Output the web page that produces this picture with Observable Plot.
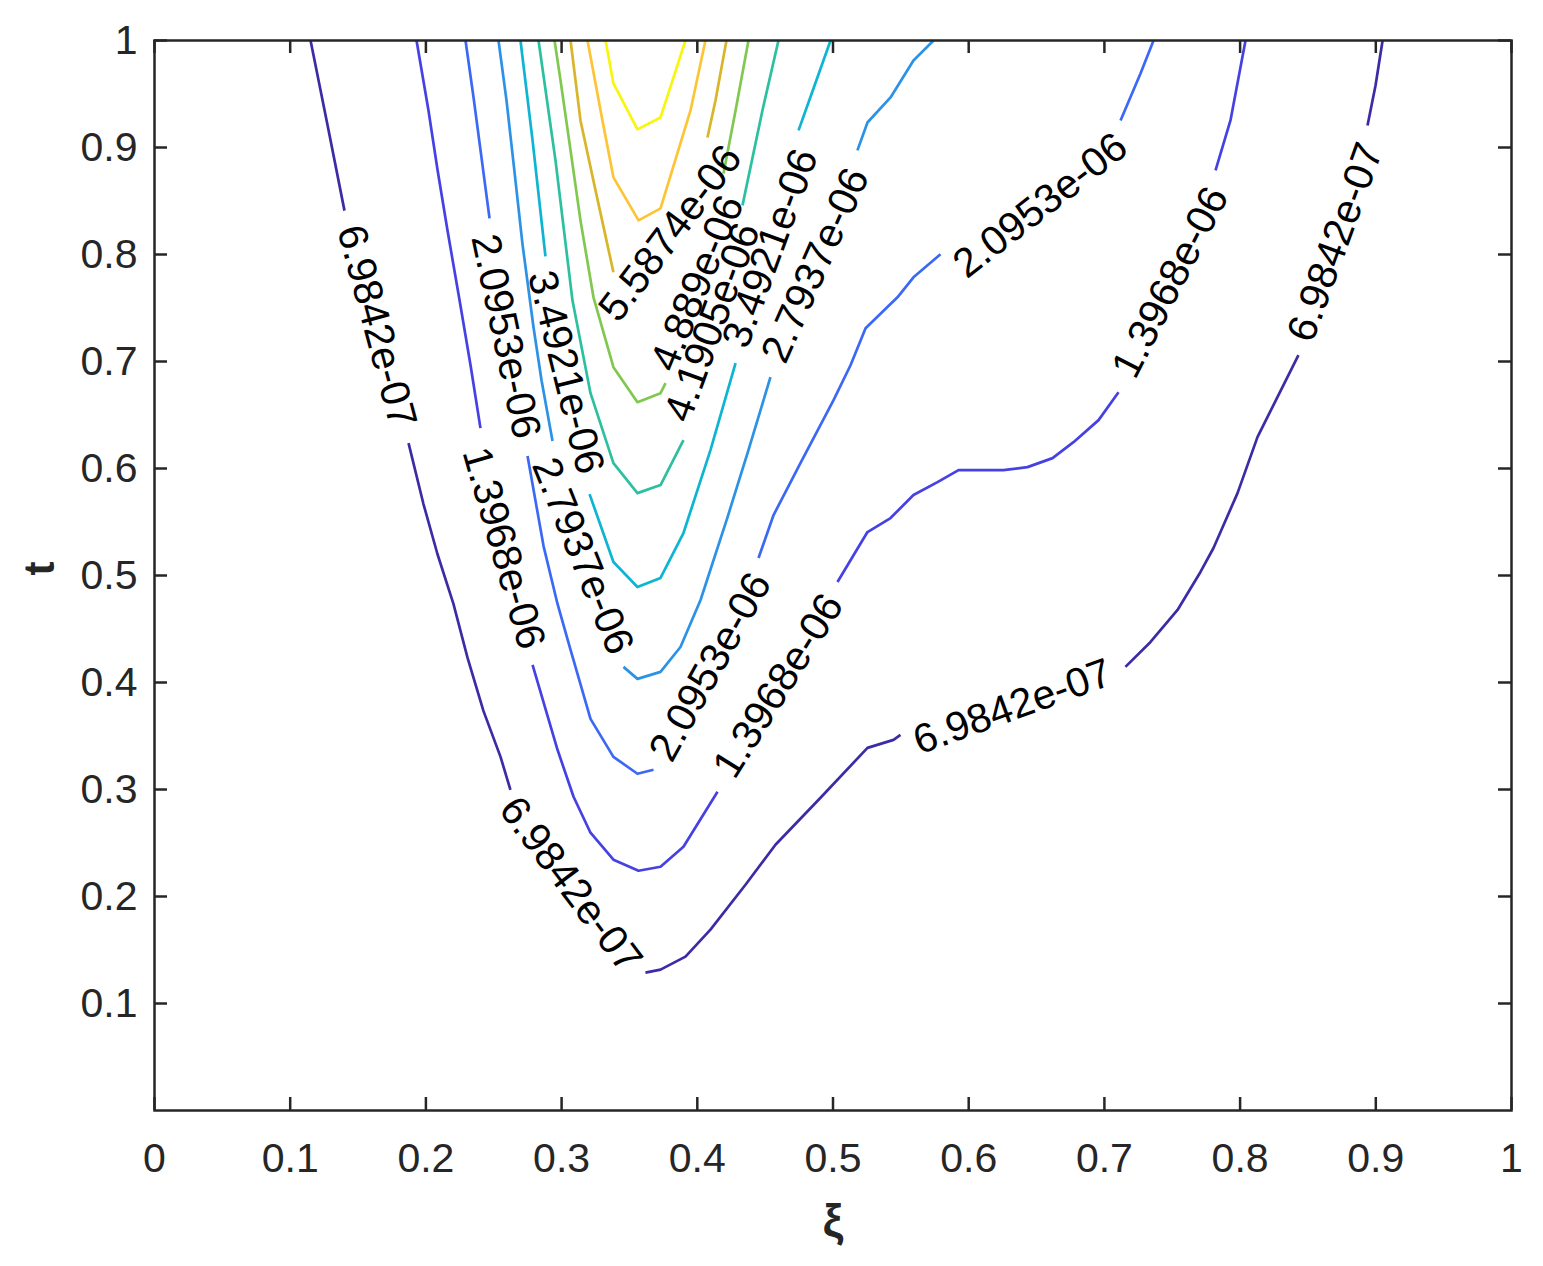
<!DOCTYPE html>
<html>
<head>
<meta charset="utf-8">
<script src="https://cdn.jsdelivr.net/npm/d3@7"></script>
<script src="https://cdn.jsdelivr.net/npm/@observablehq/plot@0.6"></script>
<style>
  html, body { margin: 0; padding: 0; background: #fff; }
  #chart svg { display: block; }
</style>
</head>
<body>
<div id="chart"></div>
<script>
// Contour levels (values), their labels and parula-like colours
const levels = [6.9842e-7, 1.3968e-6, 2.0953e-6, 2.7937e-6, 3.4921e-6, 4.1905e-6, 4.889e-6, 5.5874e-6, 6.2858e-6, 6.9842e-6];
const levelLabels = ["6.9842e-07", "1.3968e-06", "2.0953e-06", "2.7937e-06", "3.4921e-06", "4.1905e-06", "4.889e-06", "5.5874e-06", "6.2858e-06", "6.9842e-06"];
const levelColors = ["#3b2ca6", "#4641e3", "#3b69f5", "#2c92e6", "#0db5d2", "#2dc0a0", "#80c850", "#d9b52a", "#fdc535", "#f9f60e"];

// Contour pieces for each level as [xi, t] points (broken where MATLAB put labels)
const contour1 = [
  [[0.115, 1], [0.1275, 0.921], [0.140, 0.841]],
  [[0.1872, 0.6237], [0.1982, 0.5668], [0.2085, 0.5201], [0.2203, 0.4734], [0.2307, 0.423], [0.2424, 0.3735], [0.255, 0.3305], [0.2623, 0.2997]],
  [[0.3618, 0.1289], [0.3729, 0.1317], [0.3913, 0.1438], [0.4097, 0.169], [0.4355, 0.211], [0.4576, 0.2484], [0.4908, 0.2923], [0.5254, 0.3389], [0.5446, 0.3464], [0.5497, 0.3511]],
  [[0.7155, 0.4146], [0.734, 0.4379], [0.7539, 0.4678], [0.7708, 0.5033], [0.7804, 0.5257], [0.7981, 0.577], [0.8128, 0.6293], [0.8172, 0.6405], [0.843, 0.7059]],
  [[0.8939, 0.9206], [0.8998, 0.958], [0.905, 1]]
];
const contour2 = [
  [[0.1931, 1], [0.2019, 0.9346], [0.2085, 0.8796], [0.2159, 0.8226], [0.2248, 0.7572], [0.2329, 0.6965], [0.2402, 0.6377]],
  [[0.2786, 0.4164], [0.297, 0.3371], [0.3088, 0.2932], [0.3213, 0.2596], [0.3382, 0.2344], [0.3567, 0.2241], [0.3729, 0.2278], [0.3898, 0.2465], [0.4149, 0.2979]],
  [[0.5033, 0.4939], [0.5254, 0.5406], [0.5424, 0.5537], [0.5593, 0.5752], [0.577, 0.5873], [0.5925, 0.5985], [0.6256, 0.5985], [0.6433, 0.6013], [0.6618, 0.6097], [0.6772, 0.6246], [0.6957, 0.6452], [0.7104, 0.6713]],
  [[0.7819, 0.8786], [0.7929, 0.9253], [0.804, 1]]
];
const contour3 = [
  [[0.2292, 1], [0.2351, 0.9468], [0.2469, 0.8338]],
  [[0.2749, 0.6116], [0.2867, 0.5275], [0.297, 0.4734], [0.3066, 0.4304], [0.3213, 0.366], [0.3382, 0.3305], [0.3559, 0.3147], [0.3677, 0.3184]],
  [[0.4451, 0.5163], [0.4562, 0.5565], [0.476, 0.605], [0.5004, 0.6639], [0.5129, 0.6965], [0.524, 0.7311], [0.5475, 0.76], [0.5593, 0.7787], [0.5792, 0.8002]],
  [[0.7119, 0.9253], [0.7266, 0.9692], [0.7362, 1]]
];
const contour4 = [
  [[0.2535, 1], [0.2594, 0.944], [0.2646, 0.8852], [0.2712, 0.8095], [0.2793, 0.732], [0.2852, 0.6825], [0.2933, 0.6256]],
  [[0.3456, 0.4146], [0.3559, 0.4034], [0.3729, 0.4099], [0.3876, 0.4332], [0.4024, 0.4771], [0.4223, 0.5546], [0.4377, 0.6172], [0.4539, 0.6853]],
  [[0.518, 0.8973], [0.5254, 0.9234], [0.5424, 0.9468], [0.5593, 0.9813], [0.5741, 1]]
];
const contour5 = [
  [[0.2697, 1], [0.2786, 0.9066], [0.2881, 0.7983]],
  [[0.3206, 0.5761], [0.3382, 0.5126], [0.3559, 0.4893], [0.3729, 0.4977], [0.3898, 0.5397], [0.4097, 0.6172], [0.4282, 0.6984]],
  [[0.4746, 0.916], [0.4864, 0.958], [0.4982, 1]]
];
const contour6 = [
  [[0.283, 1], [0.2955, 0.888], [0.308, 0.7572], [0.3213, 0.6704], [0.3382, 0.605], [0.3559, 0.577], [0.3729, 0.5845], [0.3898, 0.6265]],
  [[0.4333, 0.8459], [0.448, 0.9346], [0.4598, 1]]
];
const contour7 = [
  [[0.2948, 1], [0.2992, 0.9627], [0.3066, 0.8973], [0.3139, 0.8319], [0.3235, 0.76], [0.3382, 0.6947], [0.3559, 0.662], [0.3729, 0.6704], [0.3766, 0.6797]],
  [[0.4193, 0.8758], [0.4282, 0.9346], [0.4377, 1]]
];
const contour8 = [
  [[0.3066, 1], [0.3139, 0.9253], [0.325, 0.8599], [0.3382, 0.7834]],
  [[0.4075, 0.9094], [0.4134, 0.944], [0.4215, 1]]
];
const contour9 = [
  [[0.3191, 1], [0.3301, 0.9253], [0.3382, 0.8721], [0.3567, 0.8319], [0.3729, 0.8431], [0.395, 0.9346], [0.406, 1]]
];
const contour10 = [
  [[0.3324, 1], [0.3382, 0.9599], [0.3559, 0.9169], [0.3729, 0.9281], [0.3913, 1]]
];

// Inline contour labels: level index, position (xi, t), text angle
const labelLevel = [0, 0, 0, 0, 1, 1, 1, 2, 2, 2, 3, 3, 4, 4, 5, 6, 7];
const labelXi = [0.1636, 0.3066, 0.6323, 0.8703, 0.2572, 0.4598, 0.7487, 0.2587, 0.4097, 0.6529, 0.3154, 0.4871, 0.3029, 0.4539, 0.4112, 0.4001, 0.3803];
const labelT = [0.733, 0.211, 0.3772, 0.8114, 0.5257, 0.3968, 0.774, 0.7236, 0.4146, 0.8459, 0.5182, 0.7899, 0.69, 0.8058, 0.7367, 0.7731, 0.8198];
const labelAngle = [75, 53, -20, -70, 74, -58, -63, 78, -61, -38, 68, -66, 76, -70, -70, -68, -53];

// Axis ticks
const xTicks = [0, 0.1, 0.2, 0.3, 0.4, 0.5, 0.6, 0.7, 0.8, 0.9, 1];
const yTicks = [0.1, 0.2, 0.3, 0.4, 0.5, 0.6, 0.7, 0.8, 0.9, 1];

// Build tables for the library
const contours = [contour1, contour2, contour3, contour4, contour5, contour6, contour7, contour8, contour9, contour10];
const lineRows = [];
contours.forEach((pieces, li) => {
  pieces.forEach((piece, pi) => {
    piece.forEach(([xi, t]) => lineRows.push({xi, t, level: levelLabels[li], seg: li + "-" + pi}));
  });
});
const labelRows = labelLevel.map((li, i) => ({
  xi: labelXi[i], t: labelT[i], angle: labelAngle[i], text: levelLabels[li]
}));

const W = 1543, H = 1266;
const mL = 154, mR = 32, mT = 40, mB = 156;
const innerW = W - mL - mR, innerH = H - mT - mB;
const tickLen = 13;
const axisColor = "#262626";
const font = "'Liberation Sans', Arial, Helvetica, sans-serif";

const chart = Plot.plot({
  width: W,
  height: H,
  marginLeft: mL,
  marginRight: mR,
  marginTop: mT,
  marginBottom: mB,
  x: {domain: [0, 1], label: null},
  y: {domain: [0, 1], label: null},
  color: {type: "ordinal", domain: levelLabels, range: levelColors},
  style: {fontFamily: font, background: "#fff"},
  marks: [
    Plot.line(lineRows, {x: "xi", y: "t", z: "seg", stroke: "level", strokeWidth: 2.7, strokeLinejoin: "round", strokeLinecap: "butt"}),
    Plot.text(labelRows, {x: "xi", y: "t", text: "text", rotate: "angle", fontSize: 41, fill: "#000", textAnchor: "middle", lineAnchor: "middle"}),
    // inward ticks on all four sides
    Plot.tickX(xTicks, {x: d => d, insetTop: innerH - tickLen, stroke: axisColor, strokeWidth: 2.5}),
    Plot.tickX(xTicks, {x: d => d, insetBottom: innerH - tickLen, stroke: axisColor, strokeWidth: 2.5}),
    Plot.tickY(yTicks, {y: d => d, insetRight: innerW - tickLen, stroke: axisColor, strokeWidth: 2.5}),
    Plot.tickY(yTicks, {y: d => d, insetLeft: innerW - tickLen, stroke: axisColor, strokeWidth: 2.5}),
    Plot.frame({stroke: axisColor, strokeWidth: 2.5}),
    Plot.axisX(xTicks, {anchor: "bottom", tickSize: 0, tickPadding: 32, fontSize: 41, color: axisColor, tickFormat: d => String(d), label: null}),
    Plot.axisY(yTicks, {anchor: "left", tickSize: 0, tickPadding: 17, fontSize: 41, color: axisColor, tickFormat: d => String(d), label: null}),
    Plot.text(["ξ"], {frameAnchor: "bottom", dy: 112, text: d => d, fontSize: 46, fontWeight: "bold", fill: axisColor, lineAnchor: "middle"}),
    Plot.text(["t"], {frameAnchor: "left", dx: -114, text: d => d, rotate: -90, fontSize: 42, fontWeight: "bold", fill: axisColor, lineAnchor: "middle"})
  ]
});
document.getElementById("chart").appendChild(chart);
</script>
</body>
</html>
